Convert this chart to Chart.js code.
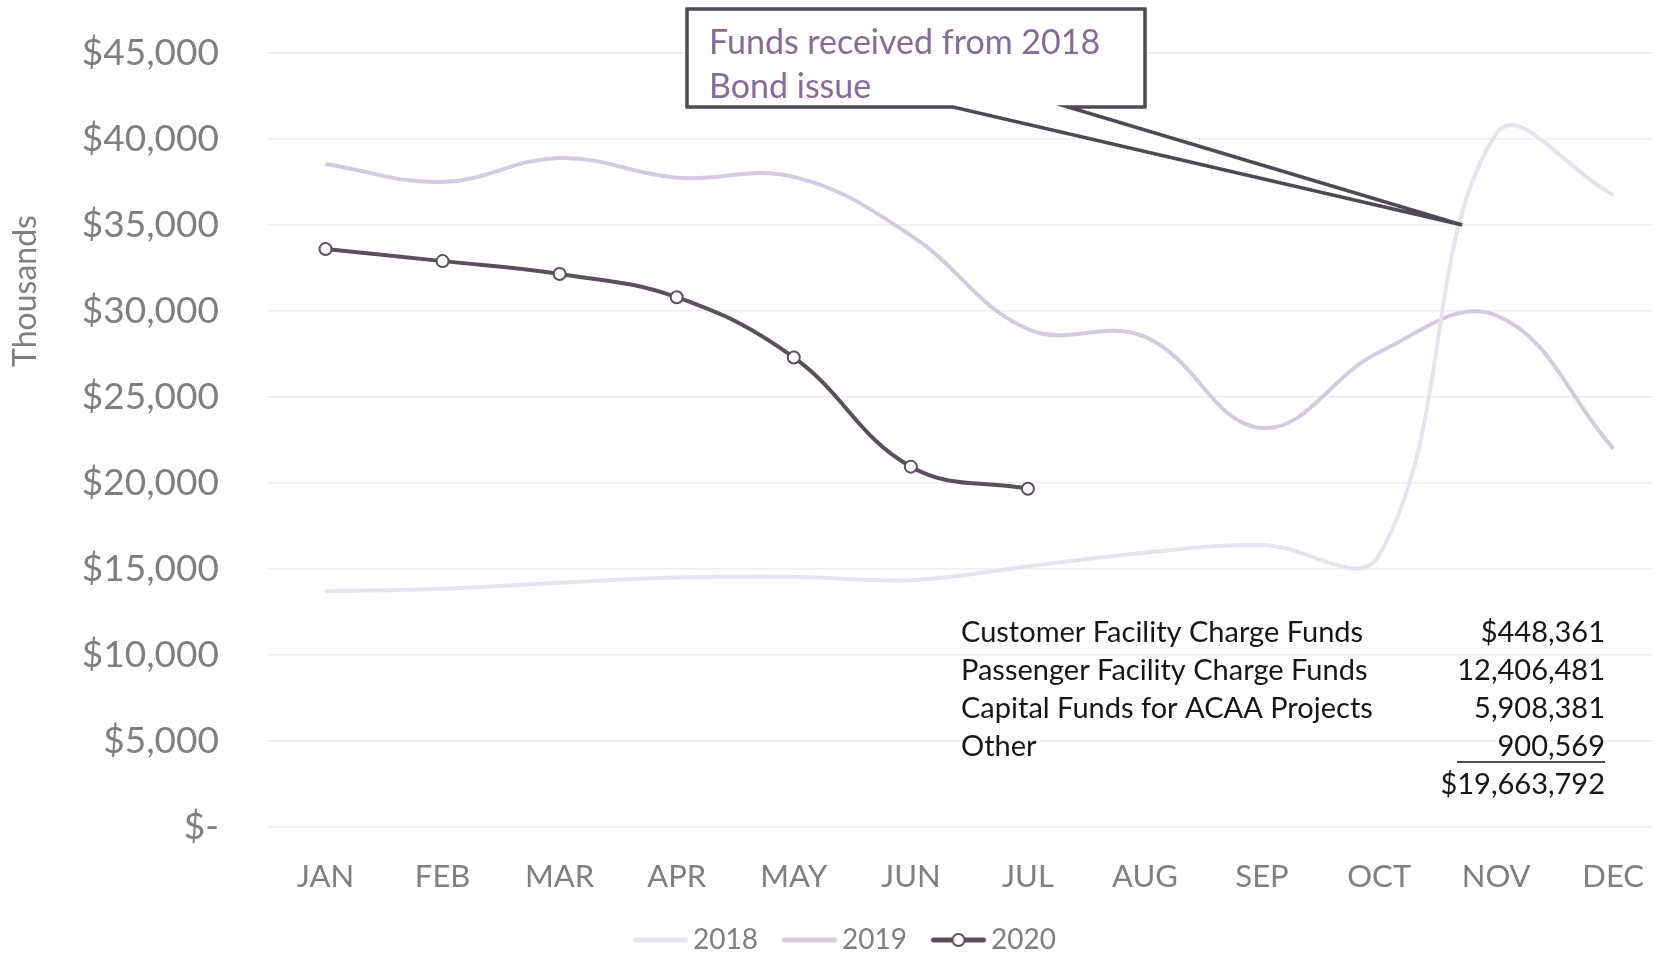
<!DOCTYPE html>
<html>
<head>
<meta charset="utf-8">
<script src="https://cdn.jsdelivr.net/npm/chart.js@4"></script>
<style>
html,body{margin:0;padding:0;background:#fff;overflow:hidden}
canvas{display:block}
</style>
</head>
<body>
<canvas id="fundsChart" width="1661" height="958"></canvas>
<script>
// ===== DATA (thousands of $) =====
const months=['JAN','FEB','MAR','APR','MAY','JUN','JUL','AUG','SEP','OCT','NOV','DEC']
const funds2018=[13700,13850,14200,14500,14550,14350,15150,15950,16400,15800,40300,36750]
const funds2019=[38550,37500,38900,37750,37800,34400,28950,28500,23200,27600,29750,22000]
const funds2020=[33600,32900,32150,30800,27300,20950,19664]
const yTicks=[0,5000,10000,15000,20000,25000,30000,35000,40000,45000]

const yTitle='Thousands'
const calloutText=['Funds received from 2018','Bond issue']
const calloutValue=35000   // where the callout points on the 2018 line
const tableLabels=['Customer Facility Charge Funds','Passenger Facility Charge Funds','Capital Funds for ACAA Projects','Other']
const tableValues=['$448,361','12,406,481','5,908,381','900,569']
const tableTotal='$19,663,792'

const c2018='#e6e3ef'
const c2019='#d4cbe0'
const c2020='#5c4d5f'
const axisGray='#7f7f7f'

// month index -> value points
const toPoints=arr=>arr.map((v,i)=>({x:i,y:v}))

// line samples for the legend (line sits right of centre so the text gap is small)
function legendSample(color,marker){
    let cv=document.createElement('canvas')
    cv.width=100; cv.height=16
    let g=cv.getContext('2d')
    g.strokeStyle=color; g.lineWidth=5; g.lineCap='round'
    g.beginPath(); g.moveTo(39,8); g.lineTo(89,8); g.stroke()
    if(marker){
        g.fillStyle='#fff'; g.lineWidth=2
        g.beginPath(); g.arc(64,8,6,0,Math.PI*2); g.fill(); g.stroke()
    }
    return cv
}

// callout, axis title and funds table drawn on top of the chart
const notesPlugin={
    id:'notes',
    afterDraw(chart){
        let ctx=chart.ctx
        let x=chart.scales.x, y=chart.scales.y
        ctx.save()

        // rotated axis title
        ctx.save()
        ctx.translate(26,291)
        ctx.rotate(-Math.PI/2)
        ctx.fillStyle=axisGray
        ctx.font='32px Lato'
        ctx.textAlign='center'
        ctx.textBaseline='middle'
        ctx.fillText(yTitle,0,0)
        ctx.restore()

        // callout box with a wedge pointing at the 2018 line
        let bx1=687, by1=9, bx2=1145, by2=107
        let tipX=x.getPixelForValue(9.71)
        let tipY=y.getPixelForValue(calloutValue)
        ctx.beginPath()
        ctx.moveTo(bx1,by1)
        ctx.lineTo(bx2,by1)
        ctx.lineTo(bx2,by2)
        ctx.lineTo(1068,by2)
        ctx.lineTo(tipX,tipY)
        ctx.lineTo(953,by2)
        ctx.lineTo(bx1,by2)
        ctx.closePath()
        ctx.fillStyle='#fff'
        ctx.fill()
        ctx.strokeStyle='#4e4954'
        ctx.lineWidth=3.5
        ctx.stroke()

        ctx.fillStyle='#876a98'
        ctx.font='34px Lato'
        ctx.textBaseline='middle'
        ctx.textAlign='left'
        calloutText.forEach((t,i)=>ctx.fillText(t,709,43+i*44))

        // funds table
        ctx.fillStyle='#161616'
        ctx.font='29px Lato'
        let rowY=[633,671,709,747]
        tableLabels.forEach((t,i)=>{
            ctx.textAlign='left'
            ctx.fillText(t,961,rowY[i])
            ctx.textAlign='right'
            ctx.fillText(tableValues[i],1605,rowY[i])
        })
        ctx.fillText(tableTotal,1605,785)
        ctx.strokeStyle='#161616'
        ctx.lineWidth=1.5
        ctx.beginPath(); ctx.moveTo(1457,762); ctx.lineTo(1605,762); ctx.stroke()

        ctx.restore()
    }
}

let fundsChart=new Chart(document.getElementById('fundsChart'),{
    type:'line',
    data:{
        datasets:[{
            label:'2018',
            data:toPoints(funds2018),
            borderColor:c2018,
            borderWidth:4,
            pointRadius:0,
            tension:0.4,
            legendImg:legendSample(c2018,false)
        },{
            label:'2019',
            data:toPoints(funds2019),
            borderColor:c2019,
            borderWidth:4,
            pointRadius:0,
            tension:0.4,
            legendImg:legendSample(c2019,false)
        },{
            label:'2020',
            data:toPoints(funds2020),
            borderColor:c2020,
            borderWidth:4,
            pointRadius:6,
            pointBorderWidth:2,
            pointBackgroundColor:'#fff',
            pointBorderColor:c2020,
            tension:0.4,
            legendImg:legendSample(c2020,true)
        }]
    },
    options:{
        responsive:false,
        animation:false,
        layout:{padding:{top:53,right:-9,left:0,bottom:-6}},
        plugins:{
            tooltip:{enabled:false},
            legend:{
                position:'bottom',
                labels:{
                    usePointStyle:true,
                    pointStyleWidth:65,
                    padding:5,
                    color:axisGray,
                    font:{family:'Lato',size:28},
                    generateLabels(chart){
                        return chart.data.datasets.map((d,i)=>({
                            text:d.label,
                            pointStyle:d.legendImg,
                            fontColor:axisGray,
                            lineWidth:0,
                            strokeStyle:'transparent',
                            fillStyle:'transparent',
                            hidden:false,
                            datasetIndex:i
                        }))
                    }
                }
            }
        },
        scales:{
            x:{
                type:'linear',
                // half a month in on the left, DEC close to the right edge
                min:-0.5,
                max:11.34,
                afterBuildTicks(s){ s.ticks=months.map((_,i)=>({value:i})) },
                grid:{display:false},
                border:{display:false},
                ticks:{color:axisGray,padding:23,font:{family:'Lato',size:31},callback:v=>months[v]},
                afterFit(s){
                    s.height=94
                    s.paddingLeft=0
                    s.paddingRight=0
                }
            },
            y:{
                min:0,
                max:45000,
                afterBuildTicks(s){ s.ticks=yTicks.map(v=>({value:v})) },
                grid:{color:'#eeeeee',lineWidth:1.5,drawTicks:false},
                border:{display:false},
                ticks:{
                    color:axisGray,
                    padding:48,
                    font:{family:'Lato',size:37},
                    callback:v=> v===0 ? '$-' : '$'+v.toLocaleString('en-US')
                },
                afterFit(s){
                    s.width=267
                    // tick padding would otherwise push the plot area down
                    s.paddingTop=0
                    s.paddingBottom=0
                }
            }
        }
    },
    plugins:[notesPlugin]
})
</script>
</body>
</html>
